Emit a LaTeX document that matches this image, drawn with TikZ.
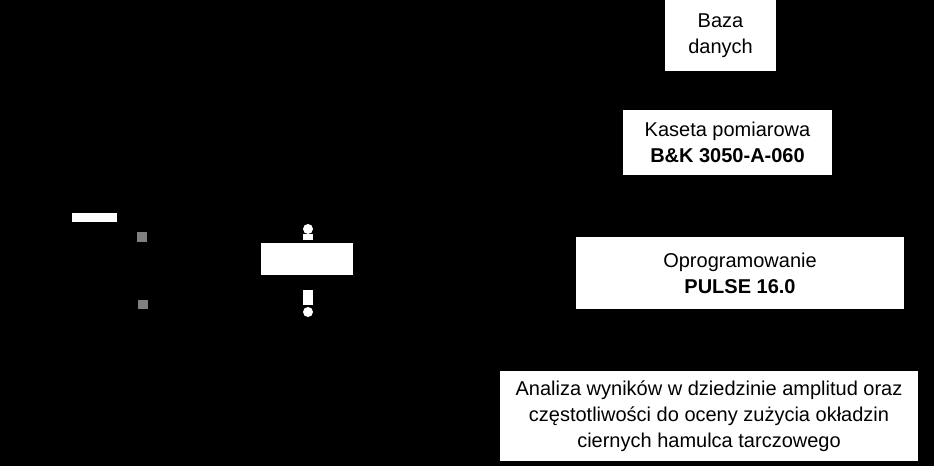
\documentclass[tikz,border=0pt]{standalone}
\usepackage{fontspec}
\setmainfont{Liberation Sans}
\begin{document}
\begin{tikzpicture}[x=1pt,y=-1pt,
  wbox/.style={fill=white,draw=none,inner sep=0pt,align=center,font=\fontsize{20}{26}\selectfont},
  wfill/.style={fill=white,draw=none}]
\fill[black] (0,0) rectangle (934,466);
\useasboundingbox (0,0) rectangle (934,466);
\node[wbox,minimum width=111,minimum height=71] (baza) at (720.5,35.5) {Baza\\danych};
\node[wbox,minimum width=209,minimum height=65] (kaseta) at (727.5,142.5) {Kaseta pomiarowa\\\textbf{B\&K 3050-A-060}};
\node[wbox,minimum width=328,minimum height=72] (opro) at (740,273) {Oprogramowanie\\\textbf{PULSE 16.0}};
\node[wbox,minimum width=418,minimum height=90] (anal) at (709,416) {Analiza wyników w dziedzinie amplitud oraz\\częstotliwości do oceny zużycia okładzin\\ciernych hamulca tarczowego};
\fill[white] (72,213) rectangle (117,222);
\fill[gray] (137,232) rectangle (147,242);
\fill[gray] (138,300) rectangle (148,309);
\node[wfill,minimum width=92,minimum height=32,inner sep=0pt] (blk) at (307,259) {};
\fill[white] (303,234) rectangle (313,240);
\fill[white] (308,229) circle (5);
\fill[white] (303,290) rectangle (313,305);
\fill[white] (308,312) circle (5);
\end{tikzpicture}
\end{document}
